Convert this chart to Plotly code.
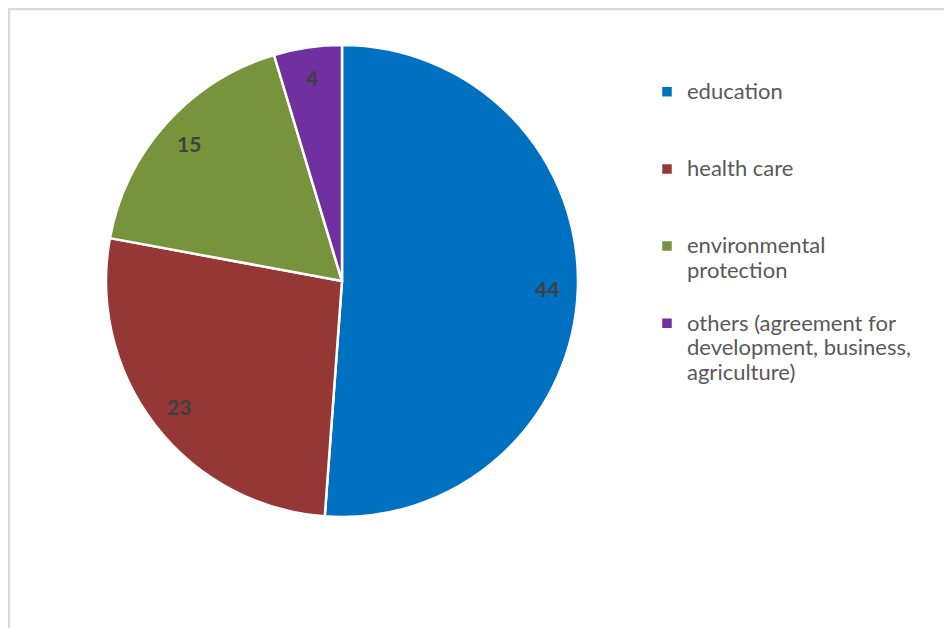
import math
import plotly.graph_objects as go

categories = ["education", "health care", "environmental<br>protection",
              "others (agreement for<br>development, business,<br>agriculture)"]
values = [44, 23, 15, 4]
colors = ["#0070C0", "#953735", "#77933C", "#7030A0"]
# blank lines used to space legend entries like the original
legend_pad = ["<br> <br> ", "<br> <br> ", "<br> ", ""]

labels = ['<span style="font-size:22px">' + c + '</span>' + p
          for c, p in zip(categories, legend_pad)]

W, H = 952, 628
OFF = 8  # page body margin
cx, cy, r = 342 - OFF, 281 - OFF, 236

fig = go.Figure(go.Pie(
    labels=labels,
    values=values,
    sort=False,
    direction="clockwise",
    rotation=0,
    marker=dict(colors=colors, line=dict(color="white", width=2.5)),
    textinfo="none",
    domain=dict(x=[(cx - r) / W, (cx + r) / W], y=[1 - (cy + r) / H, 1 - (cy - r) / H]),
    hoverinfo="skip",
))

# data labels at the middle angle of each slice, near the rim
total = sum(values)
cum = 0
annotations = []
for v in values:
    mid = (cum + v / 2) / total * 2 * math.pi
    cum += v
    rr = 0.87 * r
    x = cx + rr * math.sin(mid)
    y = cy - rr * math.cos(mid)
    annotations.append(dict(
        x=x / W, y=1 - y / H, xref="paper", yref="paper",
        text="<b>%d</b>" % v, showarrow=False,
        font=dict(family="Lato, Liberation Sans, sans-serif", size=21, color="#404040"),
        xanchor="center", yanchor="middle",
    ))

fig.update_layout(
    width=W, height=H,
    margin=dict(l=0, r=0, t=0, b=0),
    paper_bgcolor="white",
    plot_bgcolor="white",
    showlegend=True,
    annotations=annotations,
    legend=dict(
        x=639 / W, xanchor="left",
        y=1 - 65 / H, yanchor="top",
        font=dict(family="Lato, Liberation Sans, sans-serif", size=19, color="#595959"),
        valign="top",
        traceorder="normal",
        bgcolor="rgba(0,0,0,0)",
    ),
    shapes=[
        dict(type="line", xref="paper", yref="paper", x0=0, x1=1, y0=1 - 1 / H, y1=1 - 1 / H,
             line=dict(color="#D9D9D9", width=2.5)),
        dict(type="line", xref="paper", yref="paper", x0=1 / W, x1=1 / W, y0=1, y1=0,
             line=dict(color="#D9D9D9", width=2.5)),
    ],
)

fig.write_html("out.html")
